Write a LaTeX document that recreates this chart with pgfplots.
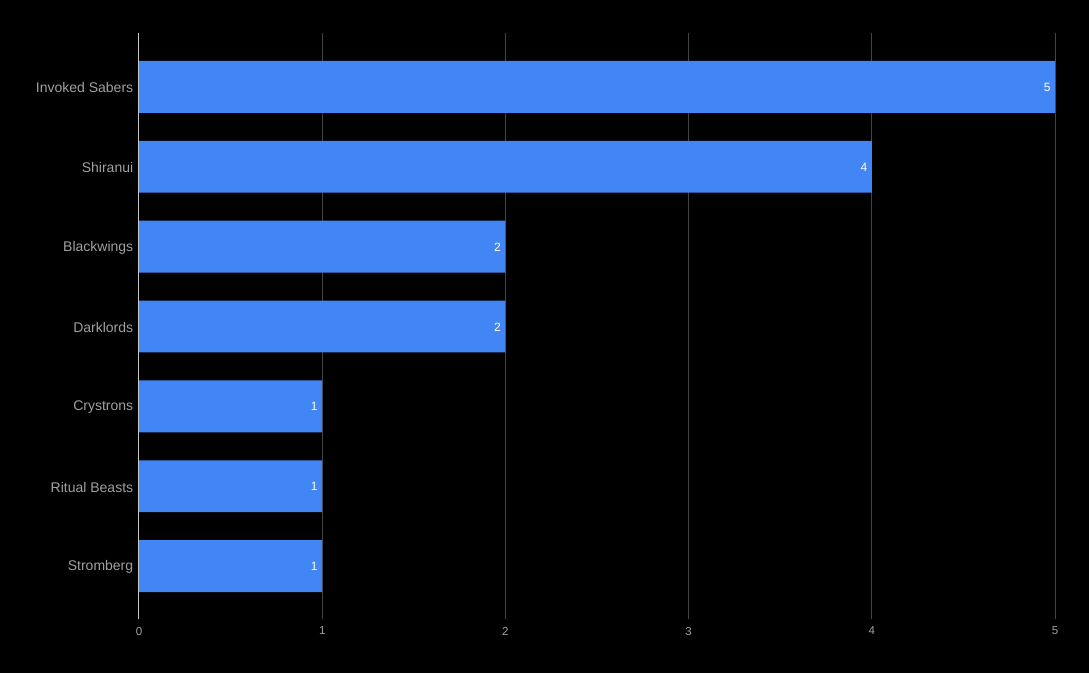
\documentclass[border=0pt]{standalone}
\usepackage{pgfplots}
\pgfplotsset{compat=1.18}
\usepackage{fontspec}
\setmainfont{Liberation Sans}
\definecolor{barblue}{RGB}{66,133,244}
\definecolor{lblgray}{RGB}{160,160,160}
\definecolor{gridgray}{RGB}{68,68,68}
\definecolor{zerogray}{RGB}{200,200,200}
\begin{document}
\begin{tikzpicture}
\fill[black] (-139pt,-54pt) rectangle (950pt,619pt);
\useasboundingbox (-139pt,-54pt) rectangle (950pt,619pt);
\begin{axis}[
  at={(0,0)}, anchor=south west,
  scale only axis,
  width=916pt, height=586pt,
  xbar, bar width=0.65,
  xmin=0, xmax=5,
  ymin=-0.6625, ymax=6.675,
  xtick={0,1,2,3,4,5},
  ytick={0,1,2,3,4,5,6},
  yticklabels={Stromberg,Ritual Beasts,Crystrons,Darklords,Blackwings,Shiranui,Invoked Sabers},
  xmajorgrids, major grid style={gridgray, line width=1pt},
  axis line style={draw=none},
  tick style={draw=none},
  xticklabel style={font=\fontsize{11.5}{13}\selectfont, text=lblgray, yshift=-4.5pt},
  yticklabel style={font=\fontsize{14}{16}\selectfont, text=lblgray, xshift=2pt, yshift=-1pt},
  /pgf/number format/assume math mode=true,
  nodes near coords,
  every node near coord/.append style={anchor=east, xshift=-1pt, yshift=-0.5pt, text=white, font=\fontsize{12}{14}\selectfont},
  clip=false,
]
\addplot[fill=barblue, draw=none] coordinates {(1,0) (1,1) (1,2) (2,3) (2,4) (4,5) (5,6)};
\draw[zerogray, line width=1pt] (axis cs:0,-0.6625) -- (axis cs:0,6.675);
\end{axis}
\end{tikzpicture}
\end{document}
